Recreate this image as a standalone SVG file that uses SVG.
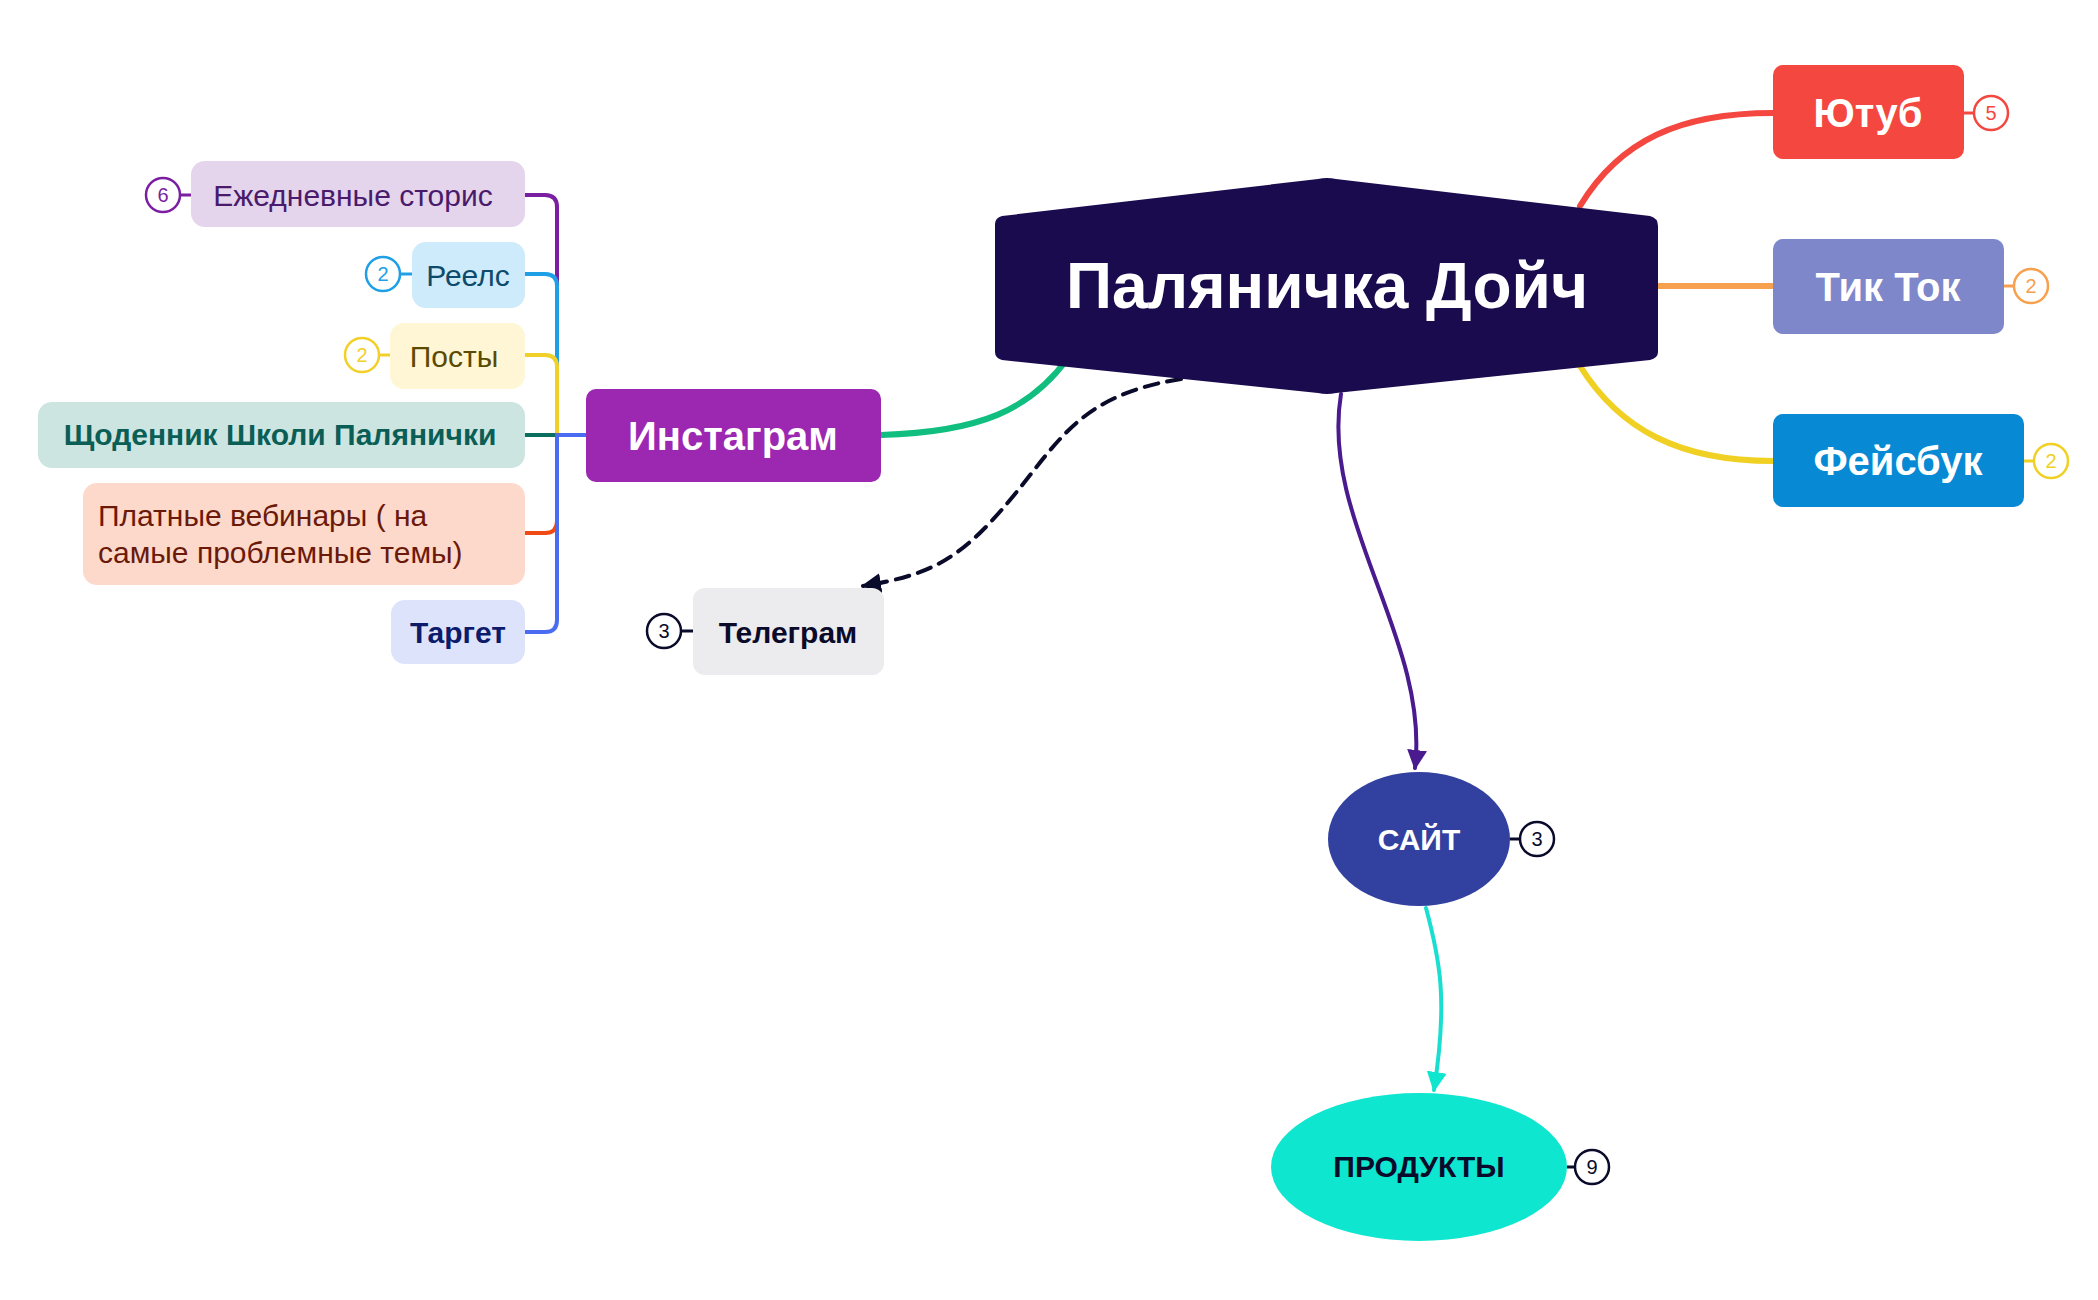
<svg xmlns="http://www.w3.org/2000/svg" width="2098" height="1300" viewBox="0 0 2098 1300">
<style>
text{font-family:"Liberation Sans","Noto Sans",sans-serif}
.c{fill:none;stroke-linecap:round}
.b{fill:#fff;stroke-width:2.5}
.bt{font-size:20px;text-anchor:middle;dominant-baseline:central}
.lt{font-size:30px;text-anchor:middle;dominant-baseline:central}
.wt{fill:#fff;font-weight:bold;text-anchor:middle;dominant-baseline:central}
</style>
<defs>
<marker id="ap" viewBox="0 0 10 10" refX="9" refY="5" markerWidth="5" markerHeight="5" orient="auto"><path d="M0,0L10,5L0,10z" fill="#4A1A8F"/></marker>
<marker id="ac" viewBox="0 0 10 10" refX="9" refY="5" markerWidth="5" markerHeight="5" orient="auto"><path d="M0,0L10,5L0,10z" fill="#0EE6CF"/></marker>
<marker id="ad" viewBox="0 0 10 10" refX="9" refY="5" markerWidth="5" markerHeight="5" orient="auto"><path d="M0,0L10,5L0,10z" fill="#0A0A2A"/></marker>
</defs>
<g id="connectors">
<path class="c" d="M881,435 C980,432 1030,410 1068,358" stroke="#10BF7F" stroke-width="6"/>
<path class="c" d="M1181,379 C1080,395 1060,440 1010,500 C960,560 930,575 863,586" stroke="#0A0A2A" stroke-width="4" stroke-dasharray="14,9" marker-end="url(#ad)"/>
<path class="c" d="M1580,206 C1620,140 1680,113 1773,113" stroke="#F44740" stroke-width="6"/>
<path class="c" d="M1658,286 L1773,286" stroke="#F7A04D" stroke-width="6"/>
<path class="c" d="M1580,366 C1620,430 1680,461 1773,461" stroke="#F0D022" stroke-width="6"/>
<path class="c" d="M1341,394 C1320,520 1430,640 1415,768" stroke="#4A1A8F" stroke-width="4" marker-end="url(#ap)"/>
<path class="c" d="M1426,908 C1440,960 1448,1000 1434,1090" stroke="#1ADFD0" stroke-width="4" marker-end="url(#ac)"/>
<path class="c" d="M525,195 L545,195 Q557,195 557,207 L557,435" stroke="#7B1FA2" stroke-width="4"/>
<path class="c" d="M525,274 L545,274 Q557,274 557,286 L557,435" stroke="#1E9FE6" stroke-width="4"/>
<path class="c" d="M525,355 L545,355 Q557,355 557,367 L557,435" stroke="#F2D02A" stroke-width="4"/>
<path class="c" d="M525,435 L586,435" stroke="#0B6F5F" stroke-width="4"/>
<path class="c" d="M557,435 L586,435" stroke="#4A6CF0" stroke-width="4"/>
<path class="c" d="M525,533 L545,533 Q557,533 557,521 L557,435" stroke="#F04A14" stroke-width="4"/>
<path class="c" d="M525,632 L545,632 Q557,632 557,620 L557,435" stroke="#4A6CF0" stroke-width="4"/>
</g>
<g id="center">
<path d="M1002,216 L1318,179 Q1327,177 1336,179 L1650,216 Q1658,218 1658,226 L1658,352 Q1658,358 1650,360 L1336,393 Q1327,395 1318,393 L1002,360 Q995,358 995,352 L995,224 Q995,218 1002,216 Z" fill="#1A0A4E"/>
<text x="1327" y="286" class="wt" font-size="64" font-weight="normal">Паляничка Дойч</text>
</g>
<g id="instagram">
<rect x="586" y="389" width="295" height="93" rx="10" fill="#9C27B0"/>
<text x="733" y="436" class="wt" font-size="40">Инстаграм</text>
</g>
<g id="youtube">
<rect x="1773" y="65" width="191" height="94" rx="10" fill="#F44740"/>
<text x="1868" y="113" class="wt" font-size="40">Ютуб</text>
<line x1="1964" y1="113" x2="1974" y2="113" stroke="#F44740" stroke-width="3"/>
<circle cx="1991" cy="113" r="17" class="b" stroke="#F44740"/>
<text x="1991" y="113" class="bt" fill="#F44740">5</text>
</g>
<g id="tiktok">
<rect x="1773" y="239" width="231" height="95" rx="10" fill="#7D87CA"/>
<text x="1888" y="287" class="wt" font-size="40">Тик Ток</text>
<line x1="2004" y1="286" x2="2014" y2="286" stroke="#F7A04D" stroke-width="3"/>
<circle cx="2031" cy="286" r="17" class="b" stroke="#F7A04D"/>
<text x="2031" y="286" class="bt" fill="#F7A04D">2</text>
</g>
<g id="facebook">
<rect x="1773" y="414" width="251" height="93" rx="10" fill="#0789D4"/>
<text x="1898" y="461" class="wt" font-size="40">Фейсбук</text>
<line x1="2024" y1="461" x2="2034" y2="461" stroke="#F0D022" stroke-width="3"/>
<circle cx="2051" cy="461" r="17" class="b" stroke="#F0D022"/>
<text x="2051" y="461" class="bt" fill="#F0D022">2</text>
</g>
<g id="telegram">
<rect x="693" y="588" width="191" height="87" rx="12" fill="#ECEBEE"/>
<text x="788" y="632" class="lt" fill="#0A0A2A" font-weight="bold">Телеграм</text>
<line x1="681" y1="631" x2="693" y2="631" stroke="#0A0A2A" stroke-width="3"/>
<circle cx="664" cy="631" r="17" class="b" stroke="#0A0A2A"/>
<text x="664" y="631" class="bt" fill="#0A0A2A">3</text>
</g>
<g id="site">
<ellipse cx="1419" cy="839" rx="91" ry="67" fill="#32409F"/>
<text x="1419" y="839" class="wt" font-size="30">САЙТ</text>
<line x1="1510" y1="839" x2="1520" y2="839" stroke="#0A0A2A" stroke-width="3"/>
<circle cx="1537" cy="839" r="17" class="b" stroke="#0A0A2A"/>
<text x="1537" y="839" class="bt" fill="#0A0A2A">3</text>
</g>
<g id="products">
<ellipse cx="1419" cy="1167" rx="148" ry="74" fill="#0EE6CF"/>
<text x="1419" y="1166" class="wt" font-size="30" style="fill:#0A0A2A">ПРОДУКТЫ</text>
<line x1="1567" y1="1167" x2="1575" y2="1167" stroke="#0A0A2A" stroke-width="3"/>
<circle cx="1592" cy="1167" r="17" class="b" stroke="#0A0A2A"/>
<text x="1592" y="1167" class="bt" fill="#0A0A2A">9</text>
</g>
<g id="stories">
<rect x="191" y="161" width="334" height="66" rx="14" fill="#E4D4EC"/>
<text x="353" y="195" class="lt" fill="#4A1A6B">Ежедневные сторис</text>
<line x1="180" y1="195" x2="191" y2="195" stroke="#7B1FA2" stroke-width="3"/>
<circle cx="163" cy="195" r="17" class="b" stroke="#7B1FA2"/>
<text x="163" y="195" class="bt" fill="#7B1FA2">6</text>
</g>
<g id="reels">
<rect x="412" y="242" width="113" height="66" rx="14" fill="#CDEBFA"/>
<text x="468" y="275" class="lt" fill="#0D4A6B">Реелс</text>
<line x1="400" y1="274" x2="412" y2="274" stroke="#1E9FE6" stroke-width="3"/>
<circle cx="383" cy="274" r="17" class="b" stroke="#1E9FE6"/>
<text x="383" y="274" class="bt" fill="#1E9FE6">2</text>
</g>
<g id="posts">
<rect x="390" y="323" width="135" height="66" rx="14" fill="#FFF6D6"/>
<text x="454" y="356" class="lt" fill="#5B4A00">Посты</text>
<line x1="379" y1="355" x2="390" y2="355" stroke="#F2D02A" stroke-width="3"/>
<circle cx="362" cy="355" r="17" class="b" stroke="#F2D02A"/>
<text x="362" y="355" class="bt" fill="#F2D02A">2</text>
</g>
<g id="diary">
<rect x="38" y="402" width="487" height="66" rx="14" fill="#CCE5E0"/>
<text x="280" y="434" class="lt" fill="#0B5E56" font-weight="bold">Щоденник Школи Палянички</text>
</g>
<g id="webinars">
<rect x="83" y="483" width="442" height="102" rx="14" fill="#FDD9CB"/>
<text x="98" y="515" font-size="30" fill="#6B1A0A" dominant-baseline="central">Платные вебинары ( на</text>
<text x="98" y="552" font-size="30" fill="#6B1A0A" dominant-baseline="central">самые проблемные темы)</text>
</g>
<g id="target">
<rect x="391" y="600" width="134" height="64" rx="14" fill="#DCE3FB"/>
<text x="458" y="632" class="lt" fill="#0D1B6B" font-weight="bold">Таргет</text>
</g>
</svg>
